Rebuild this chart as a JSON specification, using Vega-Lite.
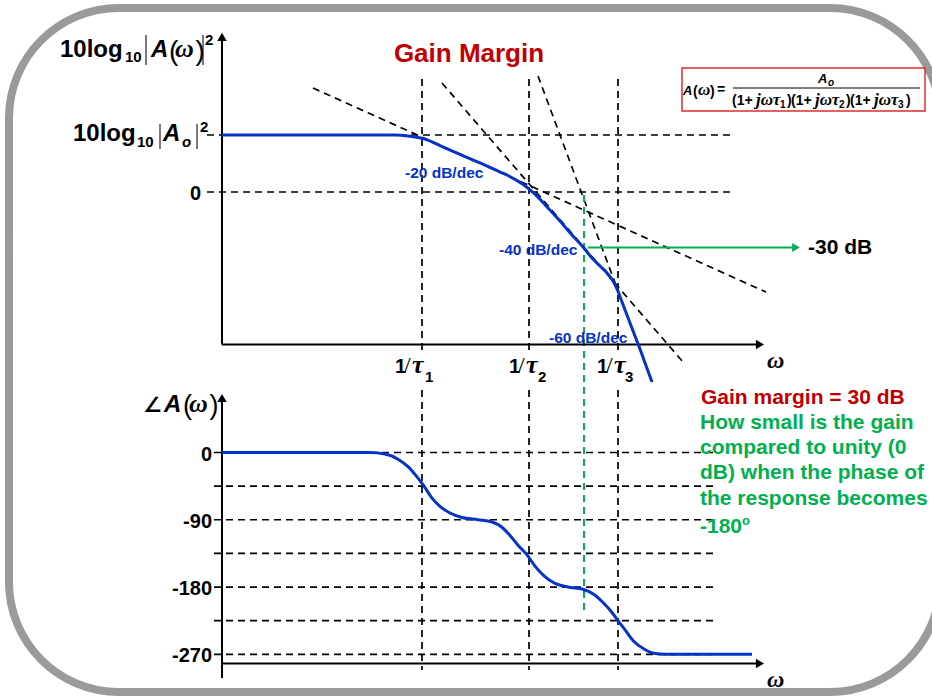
{
"$schema": "https://vega.github.io/schema/vega-lite/v6.json",
"width": 932, "height": 698, "autosize": {"type": "none"}, "padding": 0,
"background": "white",
"config": {"view": {"stroke": null}},
"encoding": {"x": {"field": "x", "type": "quantitative", "scale": {"domain": [-2.22, 7.1], "nice": false, "zero": false}, "axis": null}},
"layer": [
{
"encoding": {"y": {"field": "y", "type": "quantitative", "scale": {"domain": [-273.51, 103.78], "nice": false, "zero": false}, "axis": null}},
"layer": [
{"data": {"values": [{"x": -2.13, "x2": 7.18, "y": 99.46, "y2": -270.27}]},
 "mark": {"type": "rect", "fill": "white", "stroke": "#9a9a9a", "strokeWidth": 8, "cornerRadius": 110},
 "encoding": {"x2": {"field": "x2"}, "y2": {"field": "y2"}}},
{"data": {"values": [
  {"x": -0.15, "y": 30.8, "x2": 5.13, "y2": 30.8},
  {"x": -0.15, "y": 0, "x2": 5.13, "y2": 0},
  {"x": 2.0, "y": 61.1, "x2": 2.0, "y2": -86.5},
  {"x": 3.07, "y": 61.1, "x2": 3.07, "y2": -86.5},
  {"x": 3.96, "y": 61.1, "x2": 3.96, "y2": -86.5},
  {"x": 0.91, "y": 56.2, "x2": 5.44, "y2": -54.1},
  {"x": 2.2, "y": 58.9, "x2": 4.61, "y2": -91.9},
  {"x": 3.16, "y": 62.7, "x2": 4.3, "y2": -102.7}
 ]},
 "mark": {"type": "rule", "color": "black", "strokeWidth": 1.7, "strokeDash": [7, 5]},
 "encoding": {"x2": {"field": "x2"}, "y2": {"field": "y2"}}},
{"data": {"values": [{"x": 3.62, "y": -1.6, "x2": 3.62, "y2": -228.1}]},
 "mark": {"type": "rule", "color": "#00b050", "strokeWidth": 2, "strokeDash": [7, 5]},
 "encoding": {"x2": {"field": "x2"}, "y2": {"field": "y2"}}},
{"data": {"values": [{"x": 3.66, "y": -30, "x2": 5.72, "y2": -30}]},
 "mark": {"type": "rule", "color": "#00b050", "strokeWidth": 2},
 "encoding": {"x2": {"field": "x2"}, "y2": {"field": "y2"}}},
{"data": {"values": [{"x": 5.74, "y": -30}]},
 "mark": {"type": "point", "shape": "triangle-right", "filled": true, "size": 80, "color": "#00b050", "opacity": 1}},
{"data": {"values": [
  {"x": 0, "y": -82.4, "x2": 5.36, "y2": -82.4},
  {"x": 0, "y": -82.4, "x2": 0, "y2": 83.8}
 ]},
 "mark": {"type": "rule", "color": "black", "strokeWidth": 2},
 "encoding": {"x2": {"field": "x2"}, "y2": {"field": "y2"}}},
{"data": {"values": [{"x": 5.38, "y": -82.4}]},
 "mark": {"type": "point", "shape": "triangle-right", "filled": true, "size": 90, "color": "black", "opacity": 1}},
{"data": {"values": [{"x": 0, "y": 83.8}]},
 "mark": {"type": "point", "shape": "triangle-up", "filled": true, "size": 90, "color": "black", "opacity": 1}},
{"data": {"values": [
  {"x": -0.76, "y": 84.9, "x2": -0.76, "y2": 68.6},
  {"x": -0.19, "y": 84.9, "x2": -0.19, "y2": 68.6},
  {"x": -0.62, "y": 36.8, "x2": -0.62, "y2": 23.2},
  {"x": -0.25, "y": 36.8, "x2": -0.25, "y2": 23.2}
 ]},
 "mark": {"type": "rule", "color": "#333333", "strokeWidth": 1.3},
 "encoding": {"x2": {"field": "x2"}, "y2": {"field": "y2"}}},
{"data": {"values": [
  {"x": 0, "y": 30.8}, {"x": 1.73, "y": 30.8}, {"x": 1.86, "y": 30.3}, {"x": 1.96, "y": 29.5},
  {"x": 2.03, "y": 28.6}, {"x": 2.18, "y": 25.1}, {"x": 2.38, "y": 20.3}, {"x": 2.58, "y": 15.7},
  {"x": 2.78, "y": 10.8}, {"x": 2.86, "y": 8.9}, {"x": 2.94, "y": 6.5}, {"x": 3.02, "y": 3.8},
  {"x": 3.08, "y": 1.1}, {"x": 3.15, "y": -2.2}, {"x": 3.26, "y": -8.6}, {"x": 3.38, "y": -15.7},
  {"x": 3.5, "y": -23.2}, {"x": 3.61, "y": -29.7}, {"x": 3.7, "y": -35.7}, {"x": 3.78, "y": -40.0},
  {"x": 3.85, "y": -43.8}, {"x": 3.91, "y": -48.1}, {"x": 3.95, "y": -52.4}, {"x": 4.0, "y": -59.5},
  {"x": 4.08, "y": -70.8}, {"x": 4.18, "y": -84.9}, {"x": 4.3, "y": -102.7}
 ]},
 "mark": {"type": "line", "color": "#0533c8", "strokeWidth": 3, "interpolate": "monotone"},
 "encoding": {}},
{"data": {"values": [{"x": 4.6, "x2": 7.03, "y": 67.0, "y2": 43.8}]},
 "mark": {"type": "rect", "fill": "white", "stroke": "#e02b2b", "strokeWidth": 1.5},
 "encoding": {"x2": {"field": "x2"}, "y2": {"field": "y2"}}},
{"data": {"values": [{"x": 5.11, "y": 56.2, "x2": 6.98, "y2": 56.2}]},
 "mark": {"type": "rule", "color": "black", "strokeWidth": 1.2},
 "encoding": {"x2": {"field": "x2"}, "y2": {"field": "y2"}}},
{"data": {"values": [{"x": 2.47, "y": 70.3, "t": "Gain Margin"}]},
 "mark": {"type": "text", "align": "center", "baseline": "alphabetic", "font": "Liberation Sans", "fontWeight": "bold", "fontSize": 26, "color": "#c00000"},
 "encoding": {"text": {"field": "t"}}},
{"data": {"values": [{"x": -1.62, "y": 73.0, "t": "10log"}, {"x": -1.49, "y": 27.6, "t": "10log"}]},
 "mark": {"type": "text", "align": "left", "baseline": "alphabetic", "font": "Liberation Sans", "fontWeight": "bold", "fontSize": 24, "color": "black"},
 "encoding": {"text": {"field": "t"}}},
{"data": {"values": [
  {"x": -0.97, "y": 70.3, "t": "10"}, {"x": -0.85, "y": 24.3, "t": "10"},
  {"x": -0.17, "y": 79.5, "t": "2"}, {"x": -0.22, "y": 32.4, "t": "2"},
  {"x": 2.03, "y": -102.7, "t": "1"}, {"x": 3.16, "y": -102.7, "t": "2"}, {"x": 4.03, "y": -102.7, "t": "3"}
 ]},
 "mark": {"type": "text", "align": "left", "baseline": "alphabetic", "font": "Liberation Sans", "fontWeight": "bold", "fontSize": 15, "color": "black"},
 "encoding": {"text": {"field": "t"}}},
{"data": {"values": [{"x": -0.71, "y": 73.0, "t": "A"}, {"x": -0.59, "y": 27.6, "t": "A"}]},
 "mark": {"type": "text", "align": "left", "baseline": "alphabetic", "font": "Liberation Sans", "fontWeight": "bold", "fontStyle": "italic", "fontSize": 24, "color": "black"},
 "encoding": {"text": {"field": "t"}}},
{"data": {"values": [{"x": -0.4, "y": 24.3, "t": "o"}]},
 "mark": {"type": "text", "align": "left", "baseline": "alphabetic", "font": "Liberation Sans", "fontWeight": "bold", "fontStyle": "italic", "fontSize": 15, "color": "black"},
 "encoding": {"text": {"field": "t"}}},
{"data": {"values": [{"x": -0.53, "y": 71.4, "t": "("}, {"x": -0.265, "y": 71.4, "t": ")"}]},
 "mark": {"type": "text", "align": "left", "baseline": "alphabetic", "font": "Liberation Sans", "fontSize": 28, "color": "black"},
 "encoding": {"text": {"field": "t"}}},
{"data": {"values": [{"x": -0.47, "y": 73.0, "t": "ω"}]},
 "mark": {"type": "text", "align": "left", "baseline": "alphabetic", "font": "Liberation Serif", "fontWeight": "bold", "fontStyle": "italic", "fontSize": 26, "color": "black"},
 "encoding": {"text": {"field": "t"}}},
{"data": {"values": [{"x": -0.21, "y": 0, "t": "0"}]},
 "mark": {"type": "text", "align": "right", "baseline": "middle", "dy": 2, "font": "Liberation Sans", "fontWeight": "bold", "fontSize": 20, "color": "black"},
 "encoding": {"text": {"field": "t"}}},
{"data": {"values": [
  {"x": 1.83, "y": 10.3, "t": "-20 dB/dec"},
  {"x": 2.77, "y": -31.4, "t": "-40 dB/dec"},
  {"x": 3.27, "y": -78.9, "t": "-60 dB/dec"}
 ]},
 "mark": {"type": "text", "align": "left", "baseline": "middle", "font": "Liberation Sans", "fontWeight": "bold", "fontSize": 15.5, "color": "#0533c8"},
 "encoding": {"text": {"field": "t"}}},
{"data": {"values": [{"x": 5.86, "y": -30.3, "t": "-30 dB"}]},
 "mark": {"type": "text", "align": "left", "baseline": "middle", "font": "Liberation Sans", "fontWeight": "bold", "fontSize": 21, "color": "black"},
 "encoding": {"text": {"field": "t"}}},
{"data": {"values": [{"x": 1.73, "y": -97.8, "t": "1"}, {"x": 2.87, "y": -97.8, "t": "1"}, {"x": 3.75, "y": -97.8, "t": "1"}]},
 "mark": {"type": "text", "align": "left", "baseline": "alphabetic", "font": "Liberation Sans", "fontWeight": "bold", "fontSize": 20, "color": "black"},
 "encoding": {"text": {"field": "t"}}},
{"data": {"values": [{"x": 1.82, "y": -97.8, "t": "/"}, {"x": 2.96, "y": -97.8, "t": "/"}, {"x": 3.84, "y": -97.8, "t": "/"}]},
 "mark": {"type": "text", "align": "left", "baseline": "alphabetic", "font": "Liberation Serif", "fontSize": 24, "color": "black"},
 "encoding": {"text": {"field": "t"}}},
{"data": {"values": [{"x": 1.9, "y": -97.8, "t": "τ"}, {"x": 3.04, "y": -97.8, "t": "τ"}, {"x": 3.92, "y": -97.8, "t": "τ"}]},
 "mark": {"type": "text", "align": "left", "baseline": "alphabetic", "font": "Liberation Serif", "fontWeight": "bold", "fontStyle": "italic", "fontSize": 26, "color": "black"},
 "encoding": {"text": {"field": "t"}}},
{"data": {"values": [{"x": 5.45, "y": -95.1, "t": "ω"}]},
 "mark": {"type": "text", "align": "left", "baseline": "alphabetic", "font": "Liberation Serif", "fontStyle": "italic", "fontWeight": "bold", "fontSize": 24, "color": "black"},
 "encoding": {"text": {"field": "t"}}},
{"data": {"values": [{"x": 4.61, "y": 52.4, "t": "A"}, {"x": 5.96, "y": 58.9, "t": "A"}]},
 "mark": {"type": "text", "align": "left", "baseline": "alphabetic", "font": "Liberation Sans", "fontWeight": "bold", "fontStyle": "italic", "fontSize": 13, "color": "black"},
 "encoding": {"text": {"field": "t"}}},
{"data": {"values": [{"x": 6.06, "y": 57.3, "t": "o"}]},
 "mark": {"type": "text", "align": "left", "baseline": "alphabetic", "font": "Liberation Sans", "fontWeight": "bold", "fontStyle": "italic", "fontSize": 10, "color": "black"},
 "encoding": {"text": {"field": "t"}}},
{"data": {"values": [
  {"x": 4.71, "y": 51.9, "t": "("}, {"x": 4.88, "y": 51.9, "t": ")"}, {"x": 4.95, "y": 53.0, "t": "="},
  {"x": 5.1, "y": 47.0, "t": "(1+"}, {"x": 5.65, "y": 47.0, "t": ")"},
  {"x": 5.69, "y": 47.0, "t": "(1+"}, {"x": 6.24, "y": 47.0, "t": ")"},
  {"x": 6.28, "y": 47.0, "t": "(1+"}, {"x": 6.84, "y": 47.0, "t": ")"}
 ]},
 "mark": {"type": "text", "align": "left", "baseline": "alphabetic", "font": "Liberation Sans", "fontWeight": "bold", "fontSize": 14, "color": "black"},
 "encoding": {"text": {"field": "t"}}},
{"data": {"values": [
  {"x": 4.76, "y": 52.4, "t": "ω"},
  {"x": 5.34, "y": 47.0, "t": "jωτ"}, {"x": 5.93, "y": 47.0, "t": "jωτ"}, {"x": 6.52, "y": 47.0, "t": "jωτ"}
 ]},
 "mark": {"type": "text", "align": "left", "baseline": "alphabetic", "font": "Liberation Serif", "fontWeight": "bold", "fontStyle": "italic", "fontSize": 17, "color": "black"},
 "encoding": {"text": {"field": "t"}}},
{"data": {"values": [{"x": 5.58, "y": 45.4, "t": "1"}, {"x": 6.17, "y": 45.4, "t": "2"}, {"x": 6.76, "y": 45.4, "t": "3"}]},
 "mark": {"type": "text", "align": "left", "baseline": "alphabetic", "font": "Liberation Sans", "fontWeight": "bold", "fontSize": 10, "color": "black"},
 "encoding": {"text": {"field": "t"}}}
]
},
{
"encoding": {"y": {"field": "y", "type": "quantitative", "scale": {"domain": [-328.47, 605.43], "nice": false, "zero": false}, "axis": null}},
"layer": [
{"data": {"values": [
  {"x": -0.08, "y": 0, "x2": 4.93, "y2": 0},
  {"x": -0.08, "y": -45, "x2": 4.93, "y2": -45},
  {"x": -0.08, "y": -90, "x2": 4.93, "y2": -90},
  {"x": -0.08, "y": -135, "x2": 4.93, "y2": -135},
  {"x": -0.08, "y": -180, "x2": 4.93, "y2": -180},
  {"x": -0.08, "y": -225, "x2": 4.93, "y2": -225},
  {"x": -0.08, "y": -270, "x2": 4.93, "y2": -270},
  {"x": 2.0, "y": 83.6, "x2": 2.0, "y2": -291.0},
  {"x": 3.07, "y": 83.6, "x2": 3.07, "y2": -291.0},
  {"x": 3.96, "y": 83.6, "x2": 3.96, "y2": -291.0}
 ]},
 "mark": {"type": "rule", "color": "black", "strokeWidth": 1.7, "strokeDash": [7, 5]},
 "encoding": {"x2": {"field": "x2"}, "y2": {"field": "y2"}}},
{"data": {"values": [
  {"x": 0, "y": -282.3, "x2": 5.36, "y2": -282.3},
  {"x": 0, "y": -301.7, "x2": 0, "y2": 72.9}
 ]},
 "mark": {"type": "rule", "color": "black", "strokeWidth": 2},
 "encoding": {"x2": {"field": "x2"}, "y2": {"field": "y2"}}},
{"data": {"values": [{"x": 5.38, "y": -282.3}]},
 "mark": {"type": "point", "shape": "triangle-right", "filled": true, "size": 90, "color": "black", "opacity": 1}},
{"data": {"values": [{"x": 0, "y": 72.9}]},
 "mark": {"type": "point", "shape": "triangle-up", "filled": true, "size": 90, "color": "black", "opacity": 1}},
{"data": {"values": [
  {"x": 0, "y": 0}, {"x": 1.48, "y": 0}, {"x": 1.63, "y": -2}, {"x": 1.76, "y": -9}, {"x": 1.86, "y": -19},
  {"x": 1.94, "y": -31}, {"x": 2.02, "y": -45}, {"x": 2.1, "y": -61}, {"x": 2.18, "y": -72}, {"x": 2.28, "y": -81},
  {"x": 2.4, "y": -87}, {"x": 2.56, "y": -90}, {"x": 2.7, "y": -93}, {"x": 2.8, "y": -100}, {"x": 2.88, "y": -111},
  {"x": 2.96, "y": -124}, {"x": 3.05, "y": -137}, {"x": 3.13, "y": -152}, {"x": 3.22, "y": -165}, {"x": 3.33, "y": -175},
  {"x": 3.46, "y": -180}, {"x": 3.61, "y": -183}, {"x": 3.72, "y": -190}, {"x": 3.82, "y": -202}, {"x": 3.9, "y": -214},
  {"x": 3.96, "y": -225}, {"x": 4.04, "y": -239}, {"x": 4.12, "y": -253}, {"x": 4.22, "y": -263}, {"x": 4.33, "y": -269},
  {"x": 4.43, "y": -270}, {"x": 5.3, "y": -270}
 ]},
 "mark": {"type": "line", "color": "#0533c8", "strokeWidth": 3, "interpolate": "monotone"},
 "encoding": {}},
{"data": {"values": [{"x": -0.1, "y": 0, "t": "0"}, {"x": -0.1, "y": -90, "t": "-90"}, {"x": -0.1, "y": -180, "t": "-180"}, {"x": -0.1, "y": -270, "t": "-270"}]},
 "mark": {"type": "text", "align": "right", "baseline": "middle", "dy": 2, "font": "Liberation Sans", "fontWeight": "bold", "fontSize": 20, "color": "black"},
 "encoding": {"text": {"field": "t"}}},
{"data": {"values": [{"x": -0.79, "y": 54.2, "t": "∠"}]},
 "mark": {"type": "text", "align": "left", "baseline": "alphabetic", "font": "DejaVu Sans", "fontWeight": "bold", "fontSize": 21, "color": "black"},
 "encoding": {"text": {"field": "t"}}},
{"data": {"values": [{"x": -0.58, "y": 54.2, "t": "A"}]},
 "mark": {"type": "text", "align": "left", "baseline": "alphabetic", "font": "Liberation Sans", "fontWeight": "bold", "fontStyle": "italic", "fontSize": 24, "color": "black"},
 "encoding": {"text": {"field": "t"}}},
{"data": {"values": [{"x": -0.39, "y": 51.5, "t": "("}, {"x": -0.125, "y": 51.5, "t": ")"}]},
 "mark": {"type": "text", "align": "left", "baseline": "alphabetic", "font": "Liberation Sans", "fontSize": 27, "color": "black"},
 "encoding": {"text": {"field": "t"}}},
{"data": {"values": [{"x": -0.33, "y": 54.2, "t": "ω"}]},
 "mark": {"type": "text", "align": "left", "baseline": "alphabetic", "font": "Liberation Serif", "fontWeight": "bold", "fontStyle": "italic", "fontSize": 26, "color": "black"},
 "encoding": {"text": {"field": "t"}}},
{"data": {"values": [{"x": 5.45, "y": -313.8, "t": "ω"}]},
 "mark": {"type": "text", "align": "left", "baseline": "alphabetic", "font": "Liberation Serif", "fontStyle": "italic", "fontWeight": "bold", "fontSize": 24, "color": "black"},
 "encoding": {"text": {"field": "t"}}},
{"data": {"values": [{"x": 4.79, "y": 72.9, "t": "Gain margin = 30 dB"}]},
 "mark": {"type": "text", "align": "left", "baseline": "middle", "font": "Liberation Sans", "fontWeight": "bold", "fontSize": 21, "color": "#c00000"},
 "encoding": {"text": {"field": "t"}}},
{"data": {"values": [
  {"x": 4.78, "y": 39.5, "t": "How small is the gain"},
  {"x": 4.78, "y": 6.0, "t": "compared to unity (0"},
  {"x": 4.78, "y": -27.4, "t": "dB) when the phase of"},
  {"x": 4.78, "y": -62.2, "t": "the response becomes"},
  {"x": 4.78, "y": -99.7, "t": "-180"}
 ]},
 "mark": {"type": "text", "align": "left", "baseline": "middle", "font": "Liberation Sans", "fontWeight": "bold", "fontSize": 21, "color": "#00b050"},
 "encoding": {"text": {"field": "t"}}},
{"data": {"values": [{"x": 5.2, "y": -91.6, "t": "o"}]},
 "mark": {"type": "text", "align": "left", "baseline": "middle", "font": "Liberation Sans", "fontWeight": "bold", "fontSize": 13, "color": "#00b050"},
 "encoding": {"text": {"field": "t"}}}
]
}
],
"resolve": {"scale": {"y": "independent"}}
}
